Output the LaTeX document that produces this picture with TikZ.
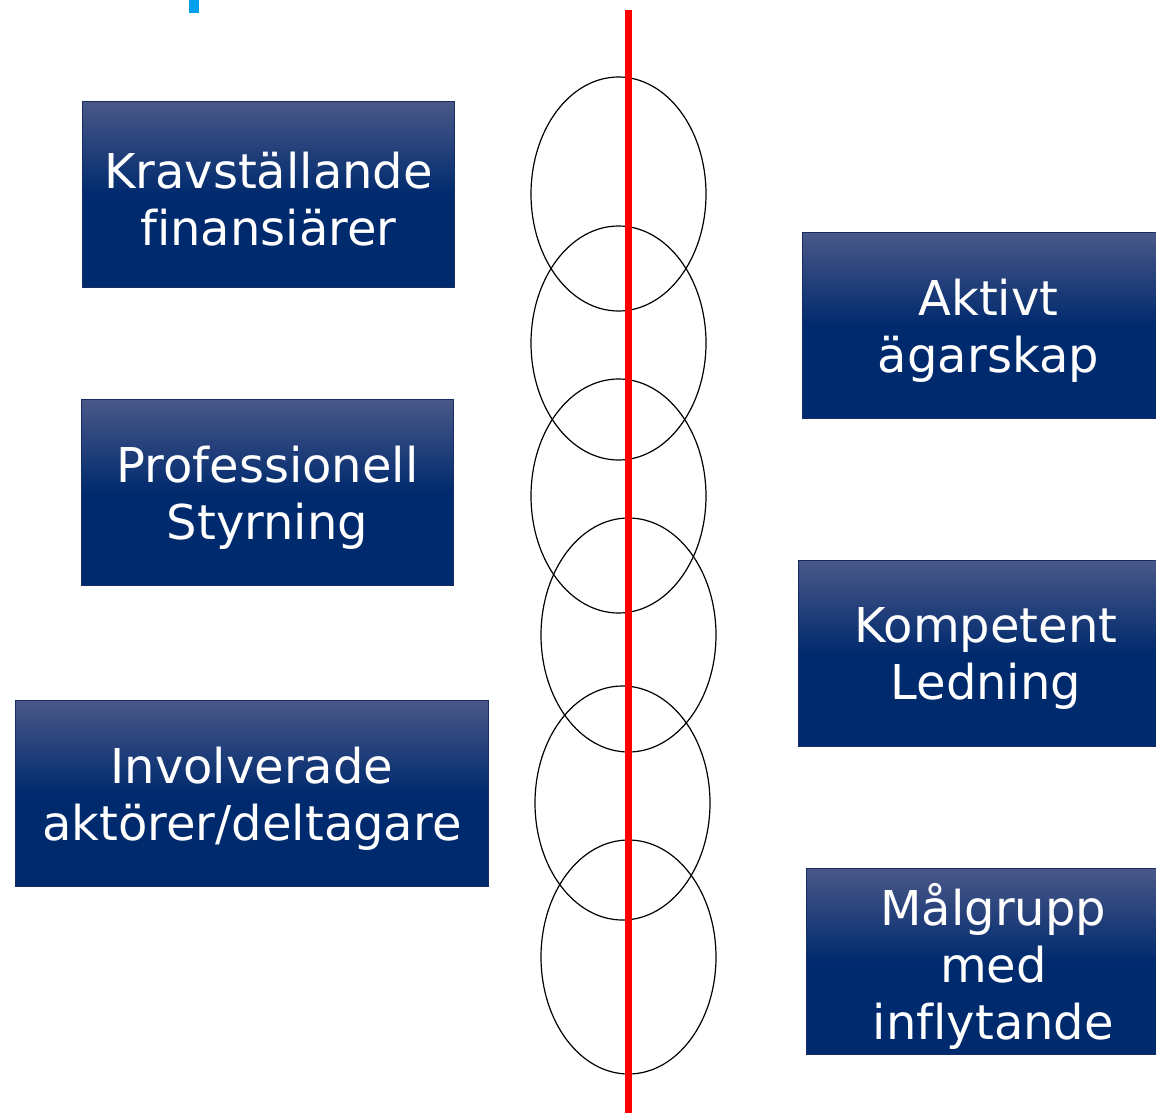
\documentclass[tikz,border=0pt]{standalone}
\usepackage{fontspec}
\setmainfont[Ligatures=NoCommon]{DejaVu Sans}
\definecolor{navy}{RGB}{0,42,110}
\definecolor{topc}{RGB}{74,88,136}
\definecolor{edgec}{RGB}{20,45,100}
\definecolor{markc}{RGB}{0,160,240}
\pgfdeclareverticalshading{boxshade}{100bp}{color(0bp)=(navy); color(50bp)=(navy); color(75bp)=(topc); color(100bp)=(topc)}
\begin{document}
\begin{tikzpicture}[x=1pt,y=-1pt,
  bx/.style={draw=edgec, line width=0.8pt, shading=boxshade, inner sep=0pt, anchor=north west, minimum height=186},
  tx/.style={text=white, align=center, font=\fontsize{48}{57}\selectfont, inner sep=0pt, yshift=-5pt},
  ring/.style={draw=black, line width=1.2pt},
  axis/.style={draw=red, line width=7pt}]
\useasboundingbox (0,0) rectangle (1156,1113);
\fill[markc] (189,0) rectangle (199,13);
% ellipses
\draw[ring] (618.5,194) ellipse [x radius=87.5, y radius=117];
\draw[ring] (618.5,343) ellipse [x radius=87.5, y radius=117];
\draw[ring] (618.5,496) ellipse [x radius=87.5, y radius=117];
\draw[ring] (628.5,635) ellipse [x radius=87.5, y radius=117];
\draw[ring] (622.5,803) ellipse [x radius=87.5, y radius=117];
\draw[ring] (628.5,957) ellipse [x radius=87.5, y radius=117];
% red axis
\coordinate (top) at (628.5,10);
\coordinate (bot) at (628.5,1113);
\draw[axis] (top) -- (bot);
% boxes
\node[bx, minimum width=372] (b1) at (82,101) {};
\node[bx, minimum width=372] (b2) at (81,399) {};
\node[bx, minimum width=473] (b3) at (15,700) {};
\node[bx, minimum width=372] (b4) at (802,232) {};
\node[bx, minimum width=375] (b5) at (798,560) {};
\node[bx, minimum width=374] (b6) at (806,868) {};
\node[tx] (t1) at (b1.center) {Kravställande\\finansiärer};
\node[tx] (t2) at (b2.center) {Professionell\\Styrning};
\node[tx] (t3) at (b3.center) {Involverade\\aktörer/deltagare};
\node[tx] (t4) at (b4.center) {Aktivt\\ägarskap};
\node[tx] (t5) at (b5.center) {Kompetent\\Ledning};
\node[tx] (t6) at (b6.center) {Målgrupp\\med\\inflytande};
\end{tikzpicture}
\end{document}
